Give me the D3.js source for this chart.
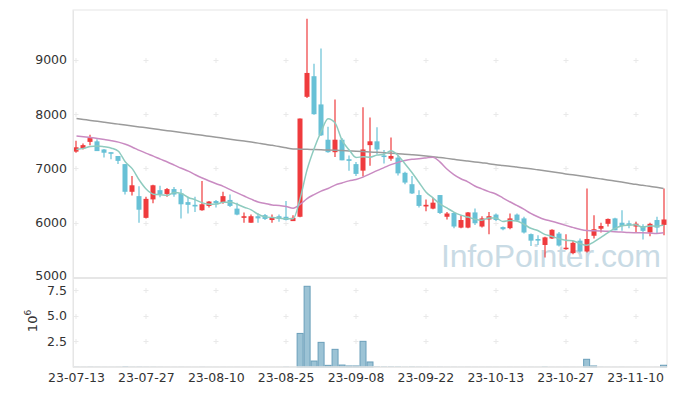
<!DOCTYPE html>
<html><head><meta charset="utf-8">
<script src="https://cdn.jsdelivr.net/npm/d3@7"></script>
<style>body{margin:0;background:#fff}svg{display:block}text{font-family:"DejaVu Sans",sans-serif}</style>
</head><body><svg id="c" width="677" height="396"></svg>
<script>
const dates = ["2023-07-13","2023-07-14","2023-07-17","2023-07-18","2023-07-19","2023-07-20","2023-07-21","2023-07-24","2023-07-25","2023-07-26","2023-07-27","2023-07-28","2023-07-31",
"2023-08-01","2023-08-02","2023-08-03","2023-08-04","2023-08-07","2023-08-08","2023-08-09","2023-08-10","2023-08-11","2023-08-14","2023-08-16","2023-08-17","2023-08-18","2023-08-21","2023-08-22","2023-08-23","2023-08-24","2023-08-25","2023-08-28","2023-08-29","2023-08-30","2023-08-31",
"2023-09-01","2023-09-04","2023-09-05","2023-09-06","2023-09-07","2023-09-08","2023-09-11","2023-09-12","2023-09-13","2023-09-14","2023-09-15","2023-09-18","2023-09-19","2023-09-20","2023-09-21","2023-09-22","2023-09-25","2023-09-26","2023-09-27",
"2023-10-04","2023-10-05","2023-10-06","2023-10-10","2023-10-11","2023-10-12","2023-10-13","2023-10-16","2023-10-17","2023-10-18","2023-10-19","2023-10-20","2023-10-23","2023-10-24","2023-10-25","2023-10-26","2023-10-27","2023-10-30","2023-10-31",
"2023-11-01","2023-11-02","2023-11-03","2023-11-06","2023-11-07","2023-11-08","2023-11-09","2023-11-10","2023-11-13","2023-11-14","2023-11-15","2023-11-16"];
const open  = [7310,7370,7490,7500,7350,7300,7230,7080,6570,6490,6090,6430,6600,6530,6620,6540,6380,6330,6230,6310,6400,6370,6420,6260,6090,6000,6120,6140,6050,6120,6110,6030,6110,8320,8700,8180,7530,7300,7530,7170,7080,6960,7430,7500,7240,7180,7200,6920,6710,6510,6300,6260,6510,6110,6180,5910,5910,6190,5930,6060,6150,5920,5900,6150,6080,5790,5700,5590,5710,5800,5520,5440,5670,5470,5760,5890,5980,6080,6000,5990,5930,5940,5820,6050,5960];
const high  = [7510,7460,7620,7540,7360,7300,7230,7080,6860,6670,6480,6700,6680,6640,6660,6620,6480,6480,6770,6400,6420,6570,6520,6370,6190,6150,6170,6160,6150,6150,6400,6140,7920,9760,8930,9210,7770,8270,7560,7240,7120,8130,7940,7760,7340,7570,7240,6940,6860,6600,6430,6460,6510,6200,6200,6140,6200,6260,6120,6200,6170,5930,6170,6170,6110,5800,5770,5740,5880,5830,5790,5670,5710,6630,6140,6000,6080,6090,6230,6040,6020,5970,6000,6110,6630];
const low   = [7290,7350,7430,7320,7200,7170,7080,6520,6500,6000,6080,6360,6470,6480,6480,6080,6170,6200,6220,6280,6280,6350,6290,6140,6000,6000,6000,6050,6000,6020,6040,6030,6100,8300,7990,7600,7290,7210,7150,6960,6860,6850,7050,7260,7090,7140,6870,6710,6530,6280,6210,6250,6160,6060,5900,5900,5900,5960,5910,5790,6030,5860,5880,6020,5800,5570,5590,5360,5700,5560,5500,5420,5450,5450,5710,5820,5930,5860,5850,5900,5820,5690,5750,5800,5770];
const close = [7390,7430,7560,7320,7290,7270,7140,6570,6690,6240,6440,6690,6520,6620,6520,6340,6330,6300,6340,6390,6360,6490,6310,6150,6120,6120,6080,6070,6090,6070,6050,6090,7920,8760,8000,7610,7300,7530,7150,7140,6900,7350,7500,7350,7210,7230,6910,6740,6540,6310,6330,6370,6180,6170,5930,6050,6190,5990,6080,6120,6050,5880,6080,6040,5820,5670,5670,5730,5870,5580,5540,5630,5470,5700,5880,5940,6070,5860,5940,5960,5980,5850,5980,5910,6060];
const volume = [31000,24000,42000,28000,19000,17000,26000,95000,38000,47000,33000,36000,21000,15000,14000,23000,13000,11000,29000,12000,10000,16000,12000,14000,11000,13000,9000,8000,10000,9000,41000,12000,3270000,7860000,580000,2400000,160000,1720000,190000,100000,100000,2500000,490000,80000,75000,80000,70000,35000,60000,40000,30000,28000,33000,20000,25000,18000,22000,16000,14000,19000,12000,10000,13000,11000,15000,18000,12000,60000,15000,14000,20000,13000,12000,750000,100000,30000,18000,15000,25000,12000,10000,14000,11000,13000,170000];
const ma5   = [7350,7370,7405,7415,7398,7374,7316,7118,6992,6782,6616,6526,6516,6502,6558,6538,6466,6422,6366,6340,6344,6376,6378,6340,6286,6238,6156,6108,6096,6086,6072,6074,6444,6978,7364,7676,7918,7840,7518,7346,7204,7214,7208,7248,7262,7328,7240,7088,6926,6746,6566,6458,6346,6272,6196,6140,6104,6066,6048,6086,6086,6024,6042,6034,5974,5898,5856,5786,5752,5704,5678,5670,5618,5584,5644,5724,5812,5890,5938,5954,5962,5918,5942,5936,5956];
const ma20  = [7600,7585,7570,7552,7533,7512,7485,7445,7392,7333,7278,7228,7172,7120,7062,7003,6950,6885,6825,6770,6718,6671,6609,6550,6492,6434,6381,6356,6326,6318,6298,6268,6338,6445,6519,6583,6631,6693,6733,6771,6798,6841,6900,6960,7015,7070,7112,7145,7168,7180,7194,7208,7121,6991,6888,6810,6754,6677,6624,6573,6530,6457,6386,6320,6251,6173,6111,6060,6027,5990,5951,5914,5878,5855,5852,5847,5841,5834,5827,5819,5816,5814,5809,5803,5815];
const ma120 = [7920,7903,7886,7868,7851,7834,7817,7800,7783,7766,7749,7731,7714,7697,7680,7662,7645,7628,7610,7593,7576,7558,7540,7522,7504,7486,7467,7448,7426,7403,7380,7360,7356,7352,7348,7344,7340,7335,7330,7324,7318,7311,7304,7297,7290,7282,7273,7263,7253,7242,7230,7218,7202,7186,7169,7152,7136,7120,7104,7089,7068,7055,7042,7026,7010,6993,6975,6957,6938,6920,6900,6882,6864,6846,6827,6808,6789,6769,6749,6729,6708,6690,6671,6652,6632];
const tickDates = ["2023-07-13","2023-07-27","2023-08-10","2023-08-25","2023-09-08","2023-09-22","2023-10-13","2023-10-27","2023-11-10"];
const priceTicks = [5000,6000,7000,8000,9000];
const volTicks = [2500000,5000000,7500000];

const svg = d3.select("#c");
const L=73, R=667, PT=10, PB=277, VT=279, VB=367;
const n = dates.length;
const x = d3.scaleBand().domain(d3.range(n)).range([L,R]).padding(0);
const cx = i => x(i) + x.bandwidth()/2;
const y = d3.scaleLinear().domain([5000,9920]).range([PB,PT]);
const yv = d3.scaleLinear().domain([0,8.57e6]).range([VB,VT]);
const grid = "#e9e9e9", frame="#e6e6e6";
const UP="#ef3b3d", DOWN="#68c1d6";

// frame
svg.append("rect").attr("x",L).attr("y",PT).attr("width",R-L).attr("height",VB-PT).attr("fill","none").attr("stroke",frame);
svg.append("rect").attr("x",L).attr("y",PB).attr("width",R-L).attr("height",VT-PB).attr("fill",frame);

// grid crosses
const tickIdx = tickDates.map(d=>dates.indexOf(d));
const crosses = [];
tickIdx.forEach(i=>{
  priceTicks.slice(1).forEach(p=>crosses.push([cx(i),y(p)]));
  volTicks.forEach(v=>crosses.push([cx(i),yv(v)]));
});
svg.append("g").selectAll("path").data(crosses).join("path")
  .attr("d",d=>`M${Math.round(d[0])-2.5},${Math.round(d[1])+0.5}h5M${Math.round(d[0])},${Math.round(d[1])-2}v5`).attr("stroke",grid).attr("stroke-width",1);

// watermark
svg.append("text").attr("x",441).attr("y",267).attr("font-size",32)
  .style("font-family","'Liberation Sans',Arial,sans-serif")
  .attr("fill","#c9dbe5").attr("textLength",220).text("InfoPointer.com");

// volume bars
const bw = x.bandwidth();
svg.append("g").selectAll("rect").data(volume).join("rect")
  .attr("x",(d,i)=>x(i)+0.5).attr("width",bw-1)
  .attr("y",d=>yv(d)).attr("height",d=>VB-yv(d))
  .attr("fill","#9cc3d5")
  .attr("stroke",d=>(VB-yv(d))>=1?"#6a9fba":"none").attr("stroke-width",1);

// candles
const cw = Math.round(bw*0.72);
const cg = svg.append("g");
d3.range(n).forEach(i=>{
  const up = close[i]>=open[i];
  const col = up?UP:DOWN;
  const xc = Math.round(cx(i));
  cg.append("line").attr("x1",xc).attr("x2",xc).attr("y1",y(high[i])).attr("y2",y(low[i])).attr("stroke",col).attr("stroke-width",1.2);
  const t = y(Math.max(open[i],close[i])), b = y(Math.min(open[i],close[i]));
  cg.append("rect").attr("x",xc-cw/2).attr("width",cw).attr("y",t).attr("height",Math.max(1.5,b-t)).attr("fill",col);
});

// moving averages
const line = d3.line().x((d,i)=>cx(i)).y(d=>y(d)).curve(d3.curveMonotoneX);
[[ma120,"#9b9b9b"],[ma20,"#c98bc2"],[ma5,"#8ecbbf"]].forEach(([arr,c])=>{
  svg.append("path").attr("d",line(arr)).attr("fill","none").attr("stroke",c).attr("stroke-width",1.5);
});

// axes
const ax = svg.append("g").attr("transform",`translate(${L},0)`)
  .call(d3.axisLeft(y).tickValues(priceTicks).tickSize(0).tickPadding(6).tickFormat(d=>d));
ax.selectAll(".tick").filter(d=>d===5000).select("text").attr("y",-1.5);
const av = svg.append("g").attr("transform",`translate(${L},0)`)
  .call(d3.axisLeft(yv).tickValues(volTicks).tickSize(0).tickPadding(6).tickFormat(d=>(d/1e6).toFixed(1)));
av.selectAll(".tick").filter(d=>d===7500000).select("text").attr("y",1);
const axb = svg.append("g").attr("transform",`translate(0,${VB})`)
  .call(d3.axisBottom(x).tickValues(tickIdx).tickSize(0).tickPadding(6).tickFormat(i=>dates[i].slice(2)));
[ax,av,axb].forEach(g=>{
  g.select(".domain").attr("stroke",frame);
  g.selectAll("text").attr("font-size",12.5).attr("fill","#333").style("font-family","'DejaVu Sans',sans-serif");
});
axb.select(".domain").remove();
svg.append("line").attr("x1",L).attr("x2",R).attr("y1",VB).attr("y2",VB).attr("stroke",frame).attr("stroke-width",1.5);

// 10^6 label
const lab = svg.append("text").attr("transform","translate(37,321) rotate(-90)").attr("text-anchor","middle")
  .attr("font-size",13).attr("fill","#333");
lab.append("tspan").text("10");
lab.append("tspan").attr("dy",-6).attr("font-size",9).text("6");
</script></body></html>
